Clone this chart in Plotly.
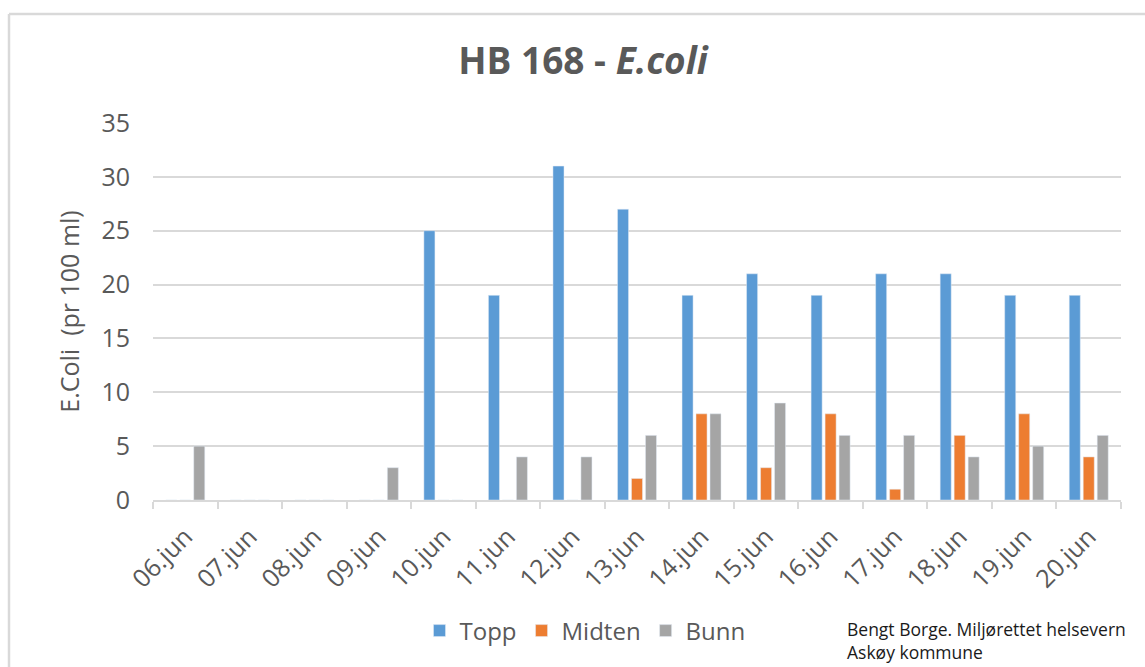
import plotly.graph_objects as go

# E.coli counts per 100 ml, sampled at three depths
dates = ["06.jun", "07.jun", "08.jun", "09.jun", "10.jun", "11.jun", "12.jun",
         "13.jun", "14.jun", "15.jun", "16.jun", "17.jun", "18.jun", "19.jun", "20.jun"]
topp = [0, 0, 0, 0, 25, 19, 31, 27, 19, 21, 19, 21, 21, 19, 19]
midten = [0, 0, 0, 0, 0, 0, 0, 2, 8, 3, 8, 1, 6, 8, 4]
bunn = [5, 0, 0, 3, 0, 4, 4, 6, 8, 9, 6, 6, 4, 5, 6]
y_ticks = [0, 5, 10, 15, 20, 25, 30, 35]

W, H = 1145, 667
L, R, T, B = 153, 24, 123, 167
PW, PH = W - L - R, H - T - B

def px_x(px):
    return (px - L) / PW

def px_y(py):
    return (H - B - py) / PH

FONT = "Open Sans"
GREY_TXT = "#595959"
GRID = "#d9d9d9"

fig = go.Figure()
fig.add_trace(go.Bar(name="Topp", x=dates, y=topp, marker_color="#5B9BD5"))
fig.add_trace(go.Bar(name="Midten", x=dates, y=midten, marker_color="#ED7D31"))
fig.add_trace(go.Bar(name="Bunn", x=dates, y=bunn, marker_color="#A5A5A5"))

fig.update_layout(
    width=W, height=H,
    margin=dict(l=L, r=R, t=T, b=B),
    paper_bgcolor="white", plot_bgcolor="white",
    barmode="group", bargap=0.35, bargroupgap=0.21,
    font=dict(family=FONT, color=GREY_TXT),
    title=dict(
        text="<b>HB 168 - <i>E.coli</i></b>",
        font=dict(family=FONT, size=37, color=GREY_TXT),
        x=px_x(583), xref="paper", xanchor="center",
        y=1 - 61 / H, yref="container", yanchor="middle",
    ),
    xaxis=dict(
        type="category",
        tickangle=-45,
        tickfont=dict(family=FONT, size=25, color=GREY_TXT),
        ticklabelstandoff=10,
        showline=True, linecolor=GRID, linewidth=2,
        ticks="outside", tickson="boundaries", ticklen=7, tickcolor=GRID, tickwidth=2,
        showgrid=False,
    ),
    yaxis=dict(
        range=[0, 35],
        tickvals=y_ticks,
        tickfont=dict(family=FONT, size=25, color=GREY_TXT),
        ticklabelstandoff=22,
        showgrid=True, gridcolor=GRID, gridwidth=2,
        zeroline=False, showline=False,
        title=dict(text="E.Coli  (pr 100 ml)",
                   font=dict(family=FONT, size=25, color=GREY_TXT), standoff=14),
    ),
    legend=dict(
        orientation="h",
        x=px_x(585), xanchor="center",
        y=px_y(631), yanchor="middle",
        font=dict(family=FONT, size=24, color=GREY_TXT),
        bgcolor="rgba(0,0,0,0)",
    ),
    showlegend=True,
)

fig.add_annotation(
    text="Bengt Borge. Miljørettet helsevern<br>Askøy kommune",
    xref="paper", yref="paper",
    x=px_x(846), xanchor="left",
    y=px_y(640), yanchor="middle",
    align="left", showarrow=False, borderpad=0,
    font=dict(family=FONT, size=17.5, color="#1a1a1a"),
)

# chart frame (left and top edges)
fig.add_shape(type="line", xref="paper", yref="paper",
              x0=px_x(9), y0=px_y(H + 5), x1=px_x(9), y1=px_y(14),
              line=dict(color=GRID, width=2.5))
fig.add_shape(type="line", xref="paper", yref="paper",
              x0=px_x(9), y0=px_y(14), x1=px_x(W + 5), y1=px_y(14),
              line=dict(color=GRID, width=2.5))

fig.write_html("out.html")
